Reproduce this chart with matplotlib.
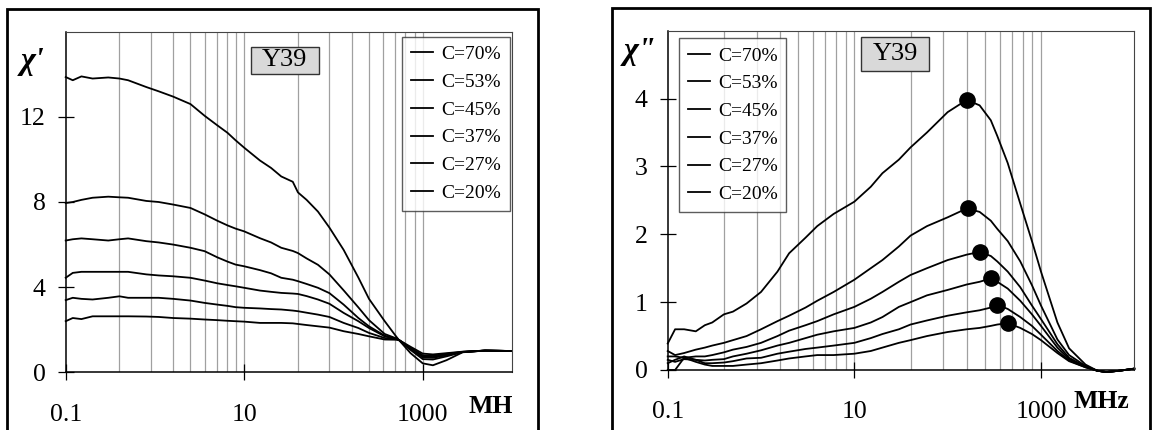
import matplotlib
matplotlib.use("Agg")
import matplotlib.pyplot as plt
from matplotlib.patches import Rectangle
from matplotlib.ticker import NullLocator

plt.rcParams['font.family'] = ['Liberation Serif', 'DejaVu Serif']

labels = ["C=70%", "C=53%", "C=45%", "C=37%", "C=27%", "C=20%"]

# chi' (left panel), frequency in MHz
freq1 = [0.1, 0.12, 0.15, 0.2, 0.3, 0.4, 0.5, 0.8, 1.1, 1.6, 2.5, 3.6, 5, 6.5, 8, 10,
         15, 20, 26, 35, 40, 50, 67, 90, 130, 190, 250, 375, 500, 540, 730, 1000,
         1300, 1850, 2800, 5000, 10000]
chi1_70 = [13.87, 13.72, 13.9, 13.8, 13.85, 13.8, 13.72, 13.4, 13.2, 12.95, 12.6, 12.05,
           11.6, 11.25, 10.9, 10.55, 9.95, 9.6, 9.2, 8.95, 8.45, 8.1, 7.55, 6.8, 5.75, 4.45,
           3.45, 2.4, 1.7, 1.52, 0.9, 0.42, 0.33, 0.57, 0.94, 1.02, 1.0]
chi1_53 = [7.95, 8.0, 8.1, 8.2, 8.25, 8.22, 8.2, 8.05, 8.0, 7.88, 7.72, 7.42, 7.12, 6.9,
           6.75, 6.62, 6.3, 6.1, 5.85, 5.7, 5.6, 5.35, 5.05, 4.6, 3.85, 3.05, 2.45, 1.8,
           1.6, 1.52, 1.05, 0.62, 0.6, 0.75, 0.95, 1.02, 1.0]
chi1_45 = [6.19, 6.25, 6.29, 6.25, 6.19, 6.25, 6.29, 6.16, 6.1, 6.0, 5.85, 5.69, 5.4, 5.2,
           5.06, 4.98, 4.8, 4.65, 4.44, 4.35, 4.28, 4.15, 3.97, 3.72, 3.18, 2.55, 2.16,
           1.72, 1.58, 1.52, 1.1, 0.7, 0.68, 0.8, 0.95, 1.02, 1.0]
chi1_37 = [4.44, 4.67, 4.72, 4.72, 4.72, 4.72, 4.72, 4.6, 4.55, 4.51, 4.44, 4.31, 4.18,
           4.1, 4.04, 3.97, 3.84, 3.78, 3.73, 3.7, 3.68, 3.58, 3.42, 3.22, 2.79, 2.4, 2.08,
           1.69, 1.57, 1.52, 1.12, 0.75, 0.72, 0.84, 0.96, 1.02, 1.0]
chi1_27 = [3.39, 3.5, 3.45, 3.42, 3.5, 3.57, 3.5, 3.5, 3.5, 3.45, 3.37, 3.26, 3.18, 3.12,
           3.06, 3.03, 3.0, 2.97, 2.95, 2.9, 2.87, 2.8, 2.71, 2.6, 2.32, 2.08, 1.85, 1.61,
           1.56, 1.52, 1.15, 0.8, 0.78, 0.87, 0.96, 1.02, 1.0]
chi1_20 = [2.4, 2.55, 2.5, 2.63, 2.63, 2.63, 2.63, 2.62, 2.6, 2.55, 2.52, 2.48, 2.45, 2.42,
           2.4, 2.38, 2.32, 2.32, 2.32, 2.3, 2.27, 2.22, 2.16, 2.1, 1.93, 1.8, 1.69, 1.54,
           1.53, 1.52, 1.2, 0.88, 0.84, 0.9, 0.97, 1.02, 1.0]

# chi'' (right panel)
freq2 = [0.1, 0.12, 0.15, 0.2, 0.25, 0.3, 0.4, 0.5, 0.7, 1, 1.5, 2, 3, 4, 6, 10, 15, 20,
         30, 40, 60, 100, 160, 220, 290, 340, 440, 600, 800, 1000, 1500, 2000, 3000,
         4000, 5000, 7000, 10000]
chi2_70 = [0.39, 0.6, 0.6, 0.57, 0.66, 0.7, 0.82, 0.86, 0.98, 1.15, 1.45, 1.72, 1.95, 2.12,
           2.3, 2.48, 2.7, 2.9, 3.1, 3.28, 3.5, 3.8, 3.98, 3.9, 3.68, 3.45, 3.05, 2.45,
           1.9, 1.45, 0.7, 0.32, 0.08, -0.01, -0.03, -0.01, 0.02]
chi2_53 = [0.28, 0.22, 0.25, 0.3, 0.33, 0.36, 0.4, 0.44, 0.5, 0.6, 0.72, 0.8, 0.92, 1.02,
           1.15, 1.33, 1.5, 1.62, 1.82, 1.98, 2.12, 2.25, 2.38, 2.33, 2.2, 2.08, 1.9, 1.6,
           1.25, 0.95, 0.45, 0.22, 0.06, -0.01, -0.03, -0.01, 0.02]
chi2_45 = [0.2, 0.2, 0.18, 0.2, 0.2, 0.22, 0.26, 0.3, 0.34, 0.4, 0.5, 0.58, 0.66, 0.72,
           0.82, 0.93, 1.05, 1.15, 1.3, 1.4, 1.5, 1.62, 1.7, 1.74, 1.68, 1.6, 1.45, 1.22,
           0.95, 0.75, 0.38, 0.18, 0.05, -0.01, -0.03, -0.01, 0.02]
chi2_37 = [0.15, 0.12, 0.16, 0.15, 0.14, 0.15, 0.16, 0.2, 0.24, 0.29, 0.36, 0.4, 0.47,
           0.52, 0.57, 0.62, 0.7, 0.78, 0.93, 1.0, 1.1, 1.18, 1.26, 1.3, 1.35, 1.3, 1.2,
           1.02, 0.82, 0.65, 0.33, 0.16, 0.05, -0.01, -0.03, -0.01, 0.02]
chi2_27 = [0.1, 0.15, 0.2, 0.15, 0.1, 0.1, 0.11, 0.13, 0.17, 0.18, 0.24, 0.27, 0.31, 0.33,
           0.36, 0.4, 0.47, 0.53, 0.6, 0.67, 0.73, 0.8, 0.85, 0.88, 0.92, 0.96, 0.9, 0.78,
           0.65, 0.52, 0.28, 0.14, 0.04, -0.01, -0.03, -0.01, 0.02]
chi2_20 = [0.0, 0.0, 0.18, 0.12, 0.08, 0.06, 0.06, 0.06, 0.08, 0.1, 0.14, 0.17, 0.2, 0.22,
           0.22, 0.24, 0.28, 0.33, 0.4, 0.44, 0.5, 0.56, 0.6, 0.62, 0.65, 0.67, 0.69, 0.62,
           0.53, 0.44, 0.25, 0.13, 0.04, -0.01, -0.03, -0.01, 0.02]

# loss peaks (dots)
peak_f = [160, 165, 221, 290, 341, 443]
peak_v = [3.98, 2.38, 1.74, 1.35, 0.96, 0.69]

grid_f = [0.4, 0.9, 1.6, 2.5, 3.6, 4.9, 6.4, 8.1, 10, 40, 90, 160, 250, 360, 490, 640, 810, 1000]

W, H = 1158, 430
fig = plt.figure(figsize=(W / 100, H / 100), dpi=100)

# outer frames
fig.add_artist(Rectangle((7.3 / W, -0.1), (537.7 - 7.3) / W, 1.1 - 9.3 / H,
                         transform=fig.transFigure, fill=False, lw=2.0, ec='black'))
fig.add_artist(Rectangle((611.7 / W, -0.1), (1150 - 611.7) / W, 1.1 - 8.3 / H,
                         transform=fig.transFigure, fill=False, lw=2.0, ec='black'))

ax1 = fig.add_axes([65.7 / W, 1 - 372.3 / H, (512 - 65.7) / W, (372.3 - 31.7) / H])
ax2 = fig.add_axes([667.7 / W, 1 - 370 / H, (1134.3 - 667.7) / W, (370 - 30.7) / H])


def style(ax, ymax, yticks):
    ax.set_xscale('log')
    ax.set_xlim(0.1, 10000)
    ax.set_ylim(0, ymax)
    ax.xaxis.set_minor_locator(NullLocator())
    ax.set_xticks([0.1, 10, 1000])
    ax.set_xticklabels(['0.1', '10', '1000'])
    ax.set_yticks(yticks)
    ax.set_yticklabels([str(t) for t in yticks])
    for g in grid_f:
        ax.axvline(g, color='#a0a0a0', lw=0.9, zorder=0)
    for s in ['left', 'bottom']:
        ax.spines[s].set_linewidth(1.1)
    for s in ['top', 'right']:
        ax.spines[s].set_linewidth(0.8)
        ax.spines[s].set_color('#444444')
    ax.tick_params(axis='both', direction='inout', length=11, width=0.9, labelsize=18.5)
    ax.tick_params(axis='y', pad=9)
    ax.tick_params(axis='x', pad=17)


style(ax1, 16, [0, 4, 8, 12])
style(ax2, 5, [0, 1, 2, 3, 4])

series1 = [chi1_70, chi1_53, chi1_45, chi1_37, chi1_27, chi1_20]
series2 = [chi2_70, chi2_53, chi2_45, chi2_37, chi2_27, chi2_20]
for vals, lab in zip(series1, labels):
    ax1.plot(freq1, vals, color='black', lw=1.3, label=lab, clip_on=False)
for vals, lab in zip(series2, labels):
    ax2.plot(freq2, vals, color='black', lw=1.3, label=lab, clip_on=False)
ax2.plot(peak_f, peak_v, 'o', color='black', ms=11, zorder=5)

leg_kw = dict(loc='upper left', fontsize=14, frameon=True, fancybox=False,
              handlelength=1.15, handletextpad=0.4, labelspacing=0.52,
              borderpad=0.45, borderaxespad=0)
l1 = ax1.legend(bbox_to_anchor=(0.754, 0.985), **leg_kw)
l2 = ax2.legend(bbox_to_anchor=(0.0242, 0.978), **leg_kw)
for lg in (l1, l2):
    lg.get_frame().set_edgecolor('#333333')
    lg.get_frame().set_linewidth(1.0)

# sample boxes
for ax, (x0, x1, y0, y1), (axl, axb, axw, axh) in [
        (ax1, (250.7, 318.5, 46.7, 74.0), (65.7, 372.3, 446.3, 340.6)),
        (ax2, (861.0, 929.0, 37.3, 71.0), (667.7, 370.0, 466.6, 339.3))]:
    fx0 = (x0 - axl) / axw
    fy0 = (axb - y1) / axh
    ax.add_patch(Rectangle((fx0, fy0), (x1 - x0) / axw, (y1 - y0) / axh,
                           transform=ax.transAxes, fc='#d9d9d9', ec='#333333', lw=1.0, zorder=6))
    ax.text(fx0 + (x1 - x0) / axw / 2, fy0 + (y1 - y0) / axh / 2, 'Y39', transform=ax.transAxes,
            ha='center', va='center', fontsize=19, zorder=7)

fig.text(33 / W, 1 - 62 / H, "χ'", fontsize=23, fontweight='bold', fontstyle='italic',
         ha='center', va='center')
fig.text(640 / W, 1 - 52 / H, 'χ"', fontsize=23, fontweight='bold', fontstyle='italic',
         ha='center', va='center')
fig.text(468.3 / W, 1 - 406.7 / H, 'MH', fontsize=18.5, fontweight='bold', ha='left', va='center')
fig.text(1073 / W, 1 - 401.7 / H, 'MHz', fontsize=18.5, fontweight='bold', ha='left', va='center')

fig.savefig('out.png', dpi=100)
